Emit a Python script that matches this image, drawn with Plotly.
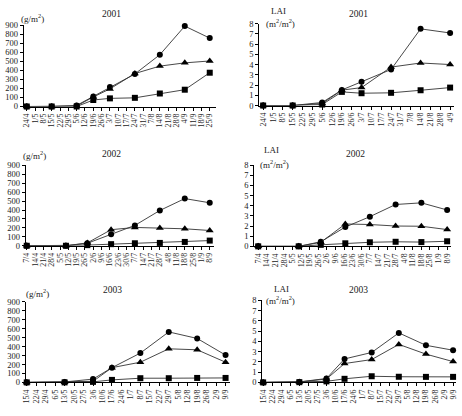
import plotly.graph_objects as go
import pandas as pd

W, H = 462, 416

# ---------------- data ----------------
dates_2001_bio = ["2001-04-24", "2001-05-15", "2001-06-05", "2001-06-19", "2001-07-03",
                  "2001-07-24", "2001-08-14", "2001-09-04", "2001-09-25"]
bio_2001_circle = [0, 0, 12, 112, 215, 360, 573, 890, 757]
bio_2001_triangle = [0, 0, 6, 105, 195, 365, 447, 483, 504]
bio_2001_square = [0, 0, 0, 72, 90, 96, 144, 186, 374]

dates_2001_lai = ["2001-04-24", "2001-05-15", "2001-06-05", "2001-06-19", "2001-07-03",
                  "2001-07-24", "2001-08-14", "2001-09-04"]
lai_2001_circle = [0, 0, 0.3, 1.52, 2.32, 3.52, 7.48, 7.08]
lai_2001_triangle = [0, 0, 0.2, 1.5, 1.75, 3.75, 4.15, 4.0]
lai_2001_square = [0, 0, 0.1, 1.33, 1.2, 1.24, 1.49, 1.75]

dates_2002 = ["2002-04-07", "2002-05-10", "2002-05-28", "2002-06-17", "2002-07-07",
              "2002-07-28", "2002-08-18", "2002-09-08"]
bio_2002_circle = [0, 0, 28, 128, 228, 395, 528, 481]
bio_2002_triangle = [0, 0, 32, 180, 205, 198, 190, 171]
bio_2002_square = [0, 0, 7, 18, 28, 32, 43, 58]
lai_2002_circle = [0, 0, 0.45, 1.9, 2.92, 4.12, 4.28, 3.58]
lai_2002_triangle = [0, 0, 0.4, 2.2, 2.15, 2.0, 1.98, 1.65]
lai_2002_square = [0, 0, 0.15, 0.3, 0.4, 0.45, 0.42, 0.5]

dates_2003 = ["2003-04-15", "2003-05-13", "2003-06-03", "2003-06-17", "2003-07-08",
              "2003-07-29", "2003-08-19", "2003-09-09"]
bio_2003_circle = [0, 5, 37, 165, 328, 565, 492, 306]
bio_2003_triangle = [0, 3, 12, 165, 226, 376, 365, 226]
bio_2003_square = [0, 0, 6, 28, 47, 47, 50, 50]
lai_2003_circle = [0, 0.05, 0.38, 2.29, 2.92, 4.83, 3.62, 3.14]
lai_2003_triangle = [0, 0.04, 0.33, 1.84, 2.23, 3.71, 2.76, 2.03]
lai_2003_square = [0, 0.02, 0.1, 0.35, 0.6, 0.55, 0.54, 0.54]

years = ["2001", "2002", "2003"]
bio_unit = "(g/m<sup>2</sup>)"
lai_label = "LAI"
lai_unit = "(m<sup>2</sup>/m<sup>2</sup>)"

panels = [
    # (dates, circle, triangle, square, ymax, dtick, year, kind, tick_start, tick_end)
    (dates_2001_bio, bio_2001_circle, bio_2001_triangle, bio_2001_square, 900, 100, years[0], "bio", "2001-04-24", "2001-09-25"),
    (dates_2001_lai, lai_2001_circle, lai_2001_triangle, lai_2001_square, 8, 1, years[0], "lai", "2001-04-24", "2001-09-04"),
    (dates_2002, bio_2002_circle, bio_2002_triangle, bio_2002_square, 900, 100, years[1], "bio", "2002-04-07", "2002-09-08"),
    (dates_2002, lai_2002_circle, lai_2002_triangle, lai_2002_square, 8, 1, years[1], "lai", "2002-04-07", "2002-09-08"),
    (dates_2003, bio_2003_circle, bio_2003_triangle, bio_2003_square, 900, 100, years[2], "bio", "2003-04-15", "2003-09-09"),
    (dates_2003, lai_2003_circle, lai_2003_triangle, lai_2003_square, 8, 1, years[2], "lai", "2003-04-15", "2003-09-09"),
]

# ---------------- layout geometry (pixels) ----------------
# axis left px, axis right px, first tick px, last tick px, y of max px, y of zero px
geom = [
    (21, 215, 24, 209, 20.7, 104),
    (259, 456, 263, 452, 19, 103),
    (23, 213, 24, 209, 164.3, 246.7),
    (254, 453, 258, 449, 164, 247.3),
    (23, 229, 24, 225, 304.3, 386.7),
    (262, 458, 263, 455, 302.7, 386.7),
]
title_pos = [(110, 9), (359, 9), (110, 153), (356, 153), (111, 292), (359, 292)]
unit_pos = [(30, 13), (281, 18), (32, 154), (274, 163), (35, 295), (281, 302)]
lai_pos = {1: (279, 6), 3: (271, 149), 5: (282, 291)}

FONT = "Liberation Serif, Times New Roman, serif"
TXT = "#222222"
fig = go.Figure()
annotations = []
layout_axes = {}

symbols = [("circle", 6), ("triangle-up", 7), ("square", 6)]

for i, (dates, c, t, s, ymax, dt, year, kind, t0, t1) in enumerate(panels):
    ax0, ax1, p0, p1, ytop, y0 = geom[i]
    xname = "x" if i == 0 else f"x{i+1}"
    yname = "y" if i == 0 else f"y{i+1}"
    d0 = pd.Timestamp(t0)
    d1 = pd.Timestamp(t1)
    days = (d1 - d0).days
    ppd = (p1 - p0) / days
    r0 = d0 - pd.Timedelta(days=(p0 - ax0) / ppd)
    r1 = d1 + pd.Timedelta(days=(ax1 - p1) / ppd)
    for (sym, sz), vals in zip(symbols, [c, t, s]):
        fig.add_trace(go.Scatter(
            x=dates, y=vals, mode="lines+markers",
            line=dict(color="#333333", width=0.9),
            marker=dict(symbol=sym, size=sz, color="black"),
            xaxis=xname, yaxis=yname, showlegend=False, cliponaxis=False,
        ))
    layout_axes["xaxis" if i == 0 else f"xaxis{i+1}"] = dict(
        type="date", domain=[ax0 / W, ax1 / W], anchor=yname,
        range=[r0.strftime("%Y-%m-%d %H:%M"), r1.strftime("%Y-%m-%d %H:%M")],
        tick0=t0, dtick=7 * 86400000, tickformat="%-d/%-m", tickangle=-90,
        showline=True, linecolor="black", linewidth=1, ticks="outside", ticklen=3,
        tickcolor="black", tickwidth=0.8, showgrid=False, zeroline=False,
        tickfont=dict(family=FONT, size=7.8, color=TXT),
    )
    layout_axes["yaxis" if i == 0 else f"yaxis{i+1}"] = dict(
        domain=[1 - y0 / H, 1 - ytop / H], anchor=xname, range=[0, ymax],
        dtick=dt, tick0=0, showline=True, linecolor="black", linewidth=1,
        ticks="outside", ticklen=3, tickcolor="black", tickwidth=0.8,
        showgrid=False, zeroline=False,
        tickfont=dict(family=FONT, size=8.5, color=TXT),
    )
    tx, ty = title_pos[i]
    annotations.append(dict(text=year, x=tx / W, y=1 - ty / H, xref="paper", yref="paper",
                            showarrow=False, xanchor="center", yanchor="middle",
                            font=dict(family=FONT, size=9.5, color=TXT)))
    ux, uy = unit_pos[i]
    annotations.append(dict(text=bio_unit if kind == "bio" else lai_unit,
                            x=ux / W, y=1 - uy / H, xref="paper", yref="paper",
                            showarrow=False, xanchor="center", yanchor="middle",
                            font=dict(family=FONT, size=9, color=TXT)))
    if kind == "lai":
        lx, ly = lai_pos[i]
        annotations.append(dict(text=lai_label, x=lx / W, y=1 - ly / H, xref="paper", yref="paper",
                                showarrow=False, xanchor="center", yanchor="middle",
                                font=dict(family=FONT, size=9, color=TXT)))

fig.update_layout(
    width=W, height=H, margin=dict(l=0, r=0, t=0, b=0),
    paper_bgcolor="white", plot_bgcolor="white",
    annotations=annotations, **layout_axes,
)
fig.write_html("out.html")
